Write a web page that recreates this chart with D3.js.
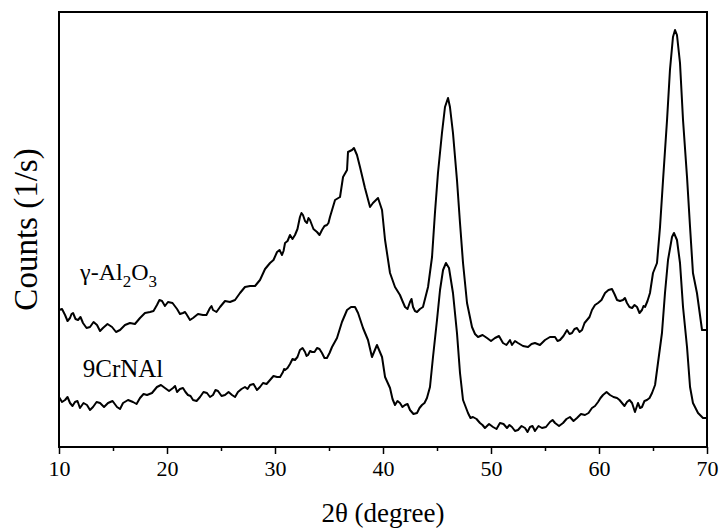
<!DOCTYPE html>
<html>
<head>
<meta charset="utf-8">
<script src="https://cdn.jsdelivr.net/npm/d3@7"></script>
<style>
  body { margin: 0; background: #fff; }
  svg text { font-family: "Liberation Serif", "Times New Roman", serif; fill: #000; }
</style>
</head>
<body>
<svg id="chart" width="722" height="528"></svg>
<script>
// gamma-Al2O3 (upper trace): 2θ in degree, counts in arbitrary units
const alTheta = [
  10.00, 10.28, 10.56, 10.79, 11.02, 11.16, 11.30, 11.53, 11.76, 11.99, 12.22, 12.55, 12.87, 13.20, 13.52, 13.80,
  14.07, 14.49, 14.91, 15.28, 15.65, 16.11, 16.57, 17.03, 17.50, 17.96, 18.43, 18.75, 19.07, 19.30, 19.54, 19.81,
  20.09, 20.51, 20.93, 21.20, 21.48, 21.67, 21.85, 22.13, 22.41, 22.87, 23.33, 23.65, 23.98, 24.12, 24.26, 24.58,
  24.91, 25.37, 25.83, 26.30, 26.76, 27.22, 27.69, 28.15, 28.61, 29.08, 29.54, 29.86, 30.19, 30.42, 30.65, 30.79,
  30.93, 31.16, 31.39, 31.62, 31.85, 32.08, 32.31, 32.45, 32.59, 32.78, 32.96, 33.10, 33.24, 33.56, 33.89, 34.12,
  34.35, 34.58, 34.81, 34.95, 35.09, 35.56, 36.02, 36.30, 36.67, 36.76, 37.13, 37.31, 37.59, 37.87, 38.33, 38.80,
  39.07, 39.54, 39.91, 40.19, 40.65, 41.11, 41.57, 41.80, 42.04, 42.27, 42.50, 42.64, 42.78, 42.96, 43.15, 43.42,
  43.70, 44.17, 44.54, 44.81, 45.09, 45.46, 45.74, 46.02, 46.20, 46.48, 46.85, 47.13, 47.41, 47.78, 48.24, 48.52,
  48.80, 49.22, 49.63, 50.00, 50.37, 50.74, 51.11, 51.43, 51.76, 51.94, 52.22, 52.50, 52.96, 53.43, 53.75, 54.07,
  54.53, 55.00, 55.46, 55.93, 56.16, 56.39, 56.71, 57.04, 57.27, 57.50, 57.73, 57.96, 58.20, 58.43, 58.66, 58.89,
  59.12, 59.35, 59.63, 59.91, 60.23, 60.56, 60.88, 61.20, 61.43, 61.67, 61.94, 62.22, 62.40, 62.59, 62.82, 63.06,
  63.29, 63.52, 63.75, 63.98, 64.12, 64.26, 64.49, 64.72, 65.00, 65.37, 65.65, 65.93, 66.30, 66.57, 66.85, 67.04,
  67.22, 67.50, 67.78, 68.15, 68.43, 68.70, 69.07, 69.54, 70.00
];
const alCounts = [
  137, 138, 132, 126, 129, 133, 134, 128, 127, 130, 124, 119, 120, 125, 122, 116,
  119, 123, 120, 115, 117, 122, 124, 123, 129, 134, 135, 136, 142, 147, 146, 141,
  145, 144, 138, 133, 134, 135, 132, 127, 129, 133, 132, 132, 139, 141, 137, 135,
  140, 146, 145, 147, 154, 160, 161, 161, 167, 178, 184, 187, 195, 197, 192, 196,
  204, 206, 212, 208, 212, 218, 230, 234, 232, 226, 224, 229, 227, 218, 215, 212,
  217, 221, 222, 224, 230, 247, 250, 270, 277, 295, 297, 299, 292, 280, 259, 240,
  244, 249, 237, 207, 174, 160, 152, 146, 140, 138, 145, 148, 140, 136, 135, 138,
  140, 160, 190, 234, 274, 314, 340, 349, 340, 314, 267, 224, 184, 144, 120, 113,
  110, 112, 109, 106, 109, 111, 104, 102, 107, 102, 106, 104, 101, 100, 103, 104,
  102, 107, 110, 110, 106, 107, 111, 117, 113, 114, 118, 119, 115, 117, 124, 127,
  130, 137, 142, 144, 147, 154, 157, 158, 153, 147, 146, 147, 149, 144, 140, 139,
  142, 140, 134, 137, 141, 140, 146, 154, 174, 184, 220, 267, 327, 377, 410, 417,
  412, 384, 327, 270, 220, 174, 154, 117, 117
];

// 9CrNAl (lower trace): 2θ in degree, counts in arbitrary units
const crTheta = [
  10.00, 10.28, 10.56, 10.79, 11.02, 11.25, 11.48, 11.71, 11.94, 12.27, 12.59, 12.87, 13.15, 13.48, 13.80, 14.17,
  14.54, 14.96, 15.37, 15.65, 15.93, 16.39, 16.85, 17.18, 17.50, 17.83, 18.15, 18.61, 19.07, 19.44, 19.81, 20.19,
  20.56, 20.75, 20.93, 21.20, 21.48, 21.71, 21.94, 22.18, 22.41, 22.74, 23.06, 23.38, 23.70, 23.98, 24.26, 24.49,
  24.72, 25.05, 25.37, 25.70, 26.02, 26.30, 26.57, 26.90, 27.22, 27.46, 27.69, 28.01, 28.33, 28.61, 28.89, 29.22,
  29.54, 29.86, 30.19, 30.47, 30.74, 30.84, 30.93, 31.16, 31.39, 31.62, 31.85, 32.08, 32.31, 32.55, 32.78, 32.92,
  33.06, 33.25, 33.43, 33.66, 33.89, 34.12, 34.35, 34.58, 34.81, 35.05, 35.28, 35.74, 36.20, 36.67, 37.04, 37.41,
  37.69, 38.15, 38.61, 38.98, 39.44, 39.91, 40.19, 40.65, 40.88, 41.11, 41.34, 41.57, 41.80, 42.04, 42.27, 42.50,
  42.82, 43.15, 43.38, 43.61, 43.84, 44.07, 44.35, 44.63, 45.00, 45.28, 45.56, 45.83, 46.11, 46.48, 46.85, 47.13,
  47.41, 47.87, 48.10, 48.33, 48.66, 48.98, 49.21, 49.44, 49.82, 50.19, 50.51, 50.83, 51.16, 51.48, 51.71, 51.94,
  52.22, 52.50, 52.83, 53.15, 53.38, 53.61, 53.84, 54.07, 54.40, 54.72, 55.09, 55.46, 55.70, 55.93, 56.30, 56.67,
  56.99, 57.31, 57.64, 57.96, 58.33, 58.70, 59.03, 59.35, 59.63, 59.91, 60.14, 60.37, 60.70, 61.02, 61.34, 61.67,
  61.90, 62.13, 62.36, 62.59, 62.82, 63.06, 63.33, 63.61, 63.80, 63.98, 64.21, 64.44, 64.68, 64.91, 65.19, 65.46,
  65.83, 66.11, 66.39, 66.76, 66.94, 67.22, 67.50, 67.78, 68.15, 68.43, 68.70, 69.17, 69.63, 70.00
];
const crCounts = [
  50, 45, 47, 50, 44, 41, 45, 46, 39, 44, 42, 37, 40, 45, 44, 40,
  44, 46, 40, 38, 44, 47, 45, 43, 49, 53, 52, 54, 60, 62, 59, 56,
  59, 61, 55, 58, 59, 55, 52, 51, 47, 46, 50, 55, 54, 50, 52, 57,
  56, 51, 52, 55, 52, 50, 55, 58, 60, 58, 62, 63, 57, 60, 64, 63,
  67, 71, 70, 70, 75, 78, 77, 79, 83, 88, 87, 90, 97, 99, 95, 91,
  92, 96, 95, 95, 99, 98, 94, 89, 89, 94, 100, 109, 125, 137, 140, 140,
  134, 119, 107, 90, 102, 90, 70, 59, 48, 42, 46, 44, 40, 42, 43, 37,
  33, 34, 39, 42, 44, 49, 60, 90, 127, 157, 177, 184, 179, 154, 114, 74,
  47, 34, 29, 30, 28, 24, 22, 19, 23, 20, 18, 24, 23, 19, 22, 20,
  16, 17, 21, 19, 15, 20, 21, 16, 21, 19, 20, 25, 27, 24, 21, 24,
  28, 30, 26, 29, 33, 32, 34, 39, 41, 45, 49, 52, 55, 52, 50, 49,
  47, 44, 41, 45, 47, 44, 35, 44, 39, 40, 46, 47, 49, 54, 62, 84,
  114, 154, 187, 210, 214, 207, 184, 140, 100, 60, 44, 34, 29, 29
];

const xTicks = [10, 20, 30, 40, 50, 60, 70];
const xMinorTicks = [15, 25, 35, 45, 55, 65];

const margin = { top: 12, right: 15, bottom: 81, left: 59 };
const width = 722 - margin.left - margin.right;
const height = 528 - margin.top - margin.bottom;

const svg = d3.select("#chart");
const g = svg.append("g").attr("transform", `translate(${margin.left},${margin.top})`);

const x = d3.scaleLinear().domain([10, 70]).range([0, width]);
const y = d3.scaleLinear().domain([0, 435]).range([height, 0]);

const line = d3
  .line()
  .x((d) => x(d[0]))
  .y((d) => y(d[1]));

const series = [d3.zip(alTheta, alCounts), d3.zip(crTheta, crCounts)];

g.selectAll("path.trace")
  .data(series)
  .enter()
  .append("path")
  .attr("class", "trace")
  .attr("d", line)
  .attr("fill", "none")
  .attr("stroke", "#000")
  .attr("stroke-width", 2)
  .attr("stroke-linejoin", "round");

// bottom axis, major + minor ticks
const xAxis = g
  .append("g")
  .attr("transform", `translate(0,${height})`)
  .call(d3.axisBottom(x).tickValues(xTicks).tickSize(7).tickPadding(6).tickFormat(d3.format("d")));
xAxis.select(".domain").remove();
xAxis.selectAll("line").attr("stroke-width", 1.5);
xAxis.selectAll("text").attr("font-size", 22).attr("font-family", "Liberation Serif");

const xMinor = g
  .append("g")
  .attr("transform", `translate(0,${height})`)
  .call(d3.axisBottom(x).tickValues(xMinorTicks).tickSize(4).tickFormat(""));
xMinor.select(".domain").remove();
xMinor.selectAll("line").attr("stroke-width", 1.5);

// frame
g.append("rect")
  .attr("width", width)
  .attr("height", height)
  .attr("fill", "none")
  .attr("stroke", "#000")
  .attr("stroke-width", 2);

// axis titles
svg
  .append("text")
  .attr("x", margin.left + width / 2)
  .attr("y", 522)
  .attr("text-anchor", "middle")
  .attr("font-size", 27)
  .text("2θ (degree)");

svg
  .append("text")
  .attr("transform", `translate(37,${margin.top + height / 2}) rotate(-90)`)
  .attr("text-anchor", "middle")
  .attr("font-size", 33)
  .text("Counts (1/s)");

// trace labels
const alLabel = g
  .append("text")
  .attr("x", x(11.95))
  .attr("y", y(167))
  .attr("font-size", 24);
alLabel.append("tspan").text("γ-Al");
alLabel.append("tspan").attr("font-size", 17).attr("dy", 7).text("2");
alLabel.append("tspan").attr("dy", -7).text("O");
alLabel.append("tspan").attr("font-size", 17).attr("dy", 7).text("3");

g.append("text")
  .attr("x", x(12.2))
  .attr("y", y(70))
  .attr("font-size", 25)
  .text("9CrNAl");
</script>
</body>
</html>
